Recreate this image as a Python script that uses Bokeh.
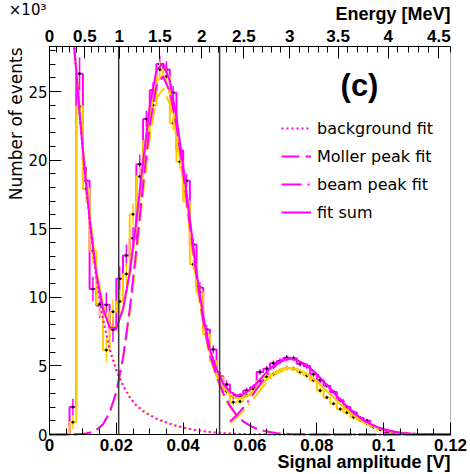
import numpy as np
from bokeh.plotting import figure
from bokeh.models import (Range1d, LinearAxis, FixedTicker, BoxAnnotation,
                          Label, Legend, LegendItem)
from bokeh.embed import file_html
from bokeh.resources import INLINE

nan = float("nan")

# ---------------- data (counts in units of 10^3 events) ----------------
bin_width = 0.002
n_bins = 60

hist_magenta = [0, 0, 0, 2.0, 26.3, 18.5, 10.6, 9.4, 9.45, 7.65,
                11.35, 13.05, 14.3, 19.7, 23.0, 25.1, 27.0, 26.6, 24.9, 20.7,
                18.5, 13.85, 10.7, 7.65, 6.2, 4.25, 3.65, 2.8, 2.8, 3.2,
                3.45, 4.55, 4.8, 5.2, 5.35, 5.6, 5.55, 5.15, 5.0, 4.4,
                3.95, 3.55, 3.1, 2.5, 2.0, 1.6, 1.2, 1.0, 0.55, 0.4,
                0.17, 0.1, 0.05, 0.02, 0.01, 0, 0, 0, 0, 0]

hist_orange = [0, 0, 0, 0.9, 23.9, 17.9, 13.4, 9.5, 6.15, 8.95,
               9.7, 11.7, 16.05, 18.8, 21.4, 24.0, 26.6, 26.1, 22.7, 19.9,
               17.0, 12.4, 10.35, 7.3, 5.35, 4.15, 3.15, 2.35, 2.4, 2.85,
               3.3, 3.9, 4.2, 4.4, 4.65, 4.85, 4.8, 4.55, 4.3, 3.95,
               3.2, 2.7, 2.25, 1.85, 1.6, 1.25, 1.05, 0.8, 0.55, 0.35,
               0.25, 0.1, 0.05, 0.02, 0.01, 0, 0, 0, 0, 0]

err_magenta = [0, 0, 0, 0.6, 1.2, 1.0, 0.9, 0.9, 0.9, 0.9,
               0.9, 0.8, 0.8, 0.7, 0.6, 0.6, 0.6, 0.6, 0.5, 0.5,
               0.5, 0.4, 0.4, 0.35, 0.3, 0.3, 0.3, 0.25, 0.2, 0.2,
               0.2, 0.2, 0.2, 0.2, 0.2, 0.2, 0.2, 0.2, 0.2, 0.2,
               0.2, 0.15, 0.15, 0.15, 0.15, 0.15, 0.15, 0.15, 0.1, 0.1,
               0.1, 0.1, 0.1, 0.05, 0.05, 0, 0, 0, 0, 0]

err_orange = [0, 0, 0, 0.5, 1.2, 1.0, 0.9, 0.9, 0.9, 0.9,
              0.9, 0.8, 0.8, 0.7, 0.6, 0.6, 0.6, 0.6, 0.5, 0.5,
              0.5, 0.4, 0.4, 0.35, 0.3, 0.3, 0.3, 0.25, 0.2, 0.2,
              0.2, 0.2, 0.2, 0.2, 0.2, 0.2, 0.2, 0.2, 0.2, 0.2,
              0.2, 0.15, 0.15, 0.15, 0.15, 0.15, 0.15, 0.15, 0.1, 0.1,
              0.1, 0.1, 0.1, 0.05, 0.05, 0, 0, 0, 0, 0]

# sampling points of the fit curves (signal amplitude, V)
fit_x = [0.000, 0.002, 0.004, 0.006, 0.0074, 0.008, 0.009, 0.010, 0.011] + \
        [round(0.012 + 0.002 * k, 3) for k in range(55)]

bg_magenta = [nan, nan, nan, nan, 28.2, 26.5, 23.4, 20.6, 18.1, 15.6,
              11.4, 8.4, 6.2, 4.65, 3.55, 2.7, 2.1, 1.7, 1.4, 1.15,
              0.95, 0.78, 0.63, 0.5, 0.4, 0.31, 0.24, 0.18, 0.13, 0.1,
              0.07, 0.05, 0.035, 0.025, 0.018, 0.012, 0.008, 0, 0, 0] + [0] * 24

bg_orange = [nan, nan, nan, nan, 28.2, 26.7, 23.7, 20.9, 18.4, 16.0,
             11.8, 8.7, 6.4, 4.8, 3.65, 2.8, 2.2, 1.78, 1.46, 1.2,
             1.0, 0.82, 0.66, 0.53, 0.42, 0.33, 0.25, 0.19, 0.14, 0.1,
             0.075, 0.055, 0.04, 0.028, 0.02, 0.013, 0.009, 0, 0, 0] + [0] * 24

moller_magenta = [0, 0, 0, 0, 0.01, 0.01, 0.03, 0.05, 0.08, 0.12,
                  0.32, 0.75, 1.6, 3.1, 5.6, 9.1, 13.5, 18.2, 22.5, 25.4,
                  26.1, 25.0, 22.5, 19.1, 15.3, 11.5, 8.3, 5.8, 4.3, 3.0,
                  2.1, 1.4, 0.95, 0.65, 0.42, 0.28, 0.18, 0.1, 0.06, 0.03,
                  0.02, 0.01] + [0] * 22

moller_orange = [0, 0, 0, 0, 0.01, 0.01, 0.03, 0.05, 0.08, 0.12,
                 0.31, 0.72, 1.55, 3.0, 5.4, 8.8, 13.0, 17.6, 21.7, 24.5,
                 25.2, 24.1, 21.7, 18.4, 14.8, 11.1, 8.0, 5.6, 4.15, 2.9,
                 2.0, 1.35, 0.92, 0.63, 0.4, 0.27, 0.17, 0.1, 0.06, 0.03,
                 0.02, 0.01] + [0] * 22

beam_magenta = [0] * 20 + \
               [0, 0, 0, 0, 0.02, 0.05, 0.1, 0.2, 0.35, 0.6,
                0.95, 1.4, 1.95, 2.6, 3.3, 4.0, 4.6, 5.1, 5.42, 5.5,
                5.41, 5.18, 4.83, 4.39, 3.88, 3.34, 2.8, 2.28, 1.81, 1.4,
                1.05, 0.77, 0.55, 0.38, 0.26, 0.17, 0.11, 0.07, 0.04, 0.025,
                0.015, 0.01, 0.005, 0]

beam_orange = [0] * 20 + \
              [0, 0, 0, 0, 0.02, 0.04, 0.09, 0.18, 0.31, 0.53,
               0.84, 1.23, 1.72, 2.29, 2.9, 3.52, 4.05, 4.49, 4.77, 4.84,
               4.76, 4.56, 4.25, 3.86, 3.41, 2.94, 2.46, 2.0, 1.59, 1.23,
               0.92, 0.68, 0.48, 0.33, 0.23, 0.15, 0.1, 0.06, 0.035, 0.022,
               0.013, 0.009, 0.004, 0]
beam_start = 0.054   # beam peak fit drawn from here on

cut_positions = [0.0207, 0.0509]

amp_ticks = [0, 0.02, 0.04, 0.06, 0.08, 0.1, 0.12]
amp_tick_labels = ["0", "0.02", "0.04", "0.06", "0.08", "0.1", "0.12"]

y_ticks = [0, 5, 10, 15, 20, 25]

energy_ticks = [0, 0.5, 1.0, 1.5, 2.0, 2.5, 3.0, 3.5, 4.0, 4.5]
energy_tick_labels = ["0", "0.5", "1", "1.5", "2", "2.5", "3", "3.5", "4", "4.5"]
energy_tick_amp = [0, 0.01056, 0.02086, 0.03301, 0.04558, 0.05814,
                   0.07191, 0.08639, 0.10136, 0.11650]

legend_labels = ["background fit", "Moller peak fit", "beam peak fit", "fit sum"]

# ---------------- layout ----------------
W, H = 470, 474
FL, FR, FT, FB = 49, 450, 46, 434           # pixel box of the data area
X_MIN, X_MAX = 0.0, 0.12
Y_MIN, Y_MAX = 0.0, 28.28
sx = (X_MAX - X_MIN) / (FR - FL)
sy = (Y_MAX - Y_MIN) / (FB - FT)
x_range = Range1d(X_MIN - FL * sx, X_MAX + (W - FR) * sx)
y_range = Range1d(Y_MIN - (H - FB) * sy, Y_MAX + FT * sy)

MAG = "#FF00FF"
ORA = "#FFCC00"
BOLD_FONT = "Liberation Sans"
REG_FONT = "DejaVu Sans"

p = figure(width=W, height=H, output_backend="svg", toolbar_location=None,
           x_range=x_range, y_range=y_range, title_location=None,
           min_border_left=0, min_border_right=0, min_border_top=0, min_border_bottom=0)
p.grid.visible = False
p.background_fill_color = "white"
p.border_fill_color = "white"
p.outline_line_color = None

# bottom axis
xa = p.xaxis[0]
xa.fixed_location = Y_MIN
xa.bounds = (X_MIN, X_MAX)
xa.ticker = FixedTicker(ticks=amp_ticks,
                        minor_ticks=list(np.round(np.arange(0, 0.1201, 0.005), 4)))
xa.major_label_overrides = {t: l for t, l in zip(amp_ticks, amp_tick_labels)}
# left axis
ya = p.yaxis[0]
ya.fixed_location = X_MIN
ya.bounds = (Y_MIN, Y_MAX)
ya.ticker = FixedTicker(ticks=y_ticks, minor_ticks=list(range(0, 29)))

# top (energy) axis: calibration for the minor ticks from the read tick positions
cal = np.polyfit(energy_ticks, energy_tick_amp, 2)
e_minor = [round(0.1 * k, 1) for k in range(1, 47) if k % 5 != 0]
e_minor_amp = [float(np.polyval(cal, e)) for e in e_minor]
e_minor_amp = [a for a in e_minor_amp if a < X_MAX]
top = LinearAxis(ticker=FixedTicker(ticks=energy_tick_amp, minor_ticks=e_minor_amp),
                 major_label_overrides={a: l for a, l in zip(energy_tick_amp, energy_tick_labels)},
                 fixed_location=Y_MAX, bounds=(X_MIN, X_MAX))
p.add_layout(top, "above")

for ax in (xa, top):
    ax.major_label_text_font = BOLD_FONT
    ax.major_label_text_font_style = "bold"
    ax.major_label_text_font_size = "17px"
for ax in (xa, ya, top):
    ax.major_tick_in = 12
    ax.major_tick_out = 0
    ax.minor_tick_in = 6
    ax.minor_tick_out = 0
    ax.axis_line_color = "black"
    ax.major_tick_line_color = "black"
    ax.minor_tick_line_color = "black"
    ax.major_label_text_color = "black"
xa.major_label_standoff = 4
top.major_label_standoff = 5
ya.major_label_standoff = 2
ya.major_label_text_font = REG_FONT
ya.major_label_text_font_size = "15px"

# frame box
p.add_layout(BoxAnnotation(left=X_MIN, right=X_MAX, bottom=Y_MIN, top=Y_MAX,
                           fill_alpha=0, line_color="black", line_width=1, level="underlay"))

# ---------------- histograms ----------------
edges = np.round(np.arange(n_bins + 1) * bin_width, 4)
centers = edges[:-1] + bin_width / 2


def draw_hist(vals, errs, color):
    v = np.array(vals, dtype=float)
    e = np.array(errs, dtype=float)
    p.step(x=edges, y=np.append(v, v[-1]), mode="after", line_color=color, line_width=2)
    m = v > 0
    p.segment(x0=centers[m], y0=v[m] - e[m], x1=centers[m], y1=v[m] + e[m],
              line_color=color, line_width=1.5)
    p.scatter(x=centers[m], y=v[m], size=2, color="black")


draw_hist(hist_magenta, err_magenta, MAG)
draw_hist(hist_orange, err_orange, ORA)

# ---------------- fit curves ----------------
fx = np.array(fit_x)


def draw_fits(bg, mol, beam, color):
    bg = np.array(bg, dtype=float)
    mol = np.array(mol, dtype=float)
    beam = np.array(beam, dtype=float)
    total = bg + mol + beam
    r_bg = p.line(fx, bg, line_color=color, line_width=2, line_dash="2 3")
    r_mol = p.line(fx, mol, line_color=color, line_width=2, line_dash="18 6")
    sel = fx >= beam_start - 1e-9
    r_beam = p.line(fx[sel], beam[sel], line_color=color, line_width=2, line_dash="20 6 2 6")
    r_sum = p.line(fx, total, line_color=color, line_width=2)
    return [r_bg, r_mol, r_beam, r_sum]


draw_fits(bg_orange, moller_orange, beam_orange, ORA)
rend_m = draw_fits(bg_magenta, moller_magenta, beam_magenta, MAG)

# vertical cut lines across the data area
p.segment(x0=cut_positions, y0=[Y_MIN] * len(cut_positions),
          x1=cut_positions, y1=[Y_MAX] * len(cut_positions),
          line_color="#3a3a3a", line_width=1.5)

legend = Legend(items=[LegendItem(label=l, renderers=[r]) for l, r in zip(legend_labels, rend_m)],
                location=(281, H - 222), padding=0, margin=0, spacing=8,
                glyph_width=30, glyph_height=20, label_height=20, label_standoff=6,
                border_line_alpha=0, background_fill_alpha=0,
                label_text_font=REG_FONT, label_text_font_size="16px",
                label_text_color="black")
p.add_layout(legend)

# ---------------- texts ----------------
def px_x(px):
    return X_MIN + (px - FL) * sx


def px_y(py):
    return Y_MIN + (FB - py) * sy


p.add_layout(Label(x=px_x(359), y=px_y(84.5), text="(c)", text_font=BOLD_FONT,
                   text_font_style="bold", text_color="black",
                   text_font_size="31px", text_align="center", text_baseline="alphabetic"))
p.add_layout(Label(x=px_x(450), y=px_y(13), text="Energy [MeV]", text_font=BOLD_FONT,
                   text_font_style="bold", text_color="black", text_font_size="18px",
                   text_align="right", text_baseline="alphabetic"))
p.add_layout(Label(x=px_x(450), y=px_y(461), text="Signal amplitude [V]", text_font=BOLD_FONT,
                   text_font_style="bold", text_color="black", text_font_size="18px",
                   text_align="right", text_baseline="alphabetic"))
p.add_layout(Label(x=px_x(15.7), y=px_y(47), text="Number of events", text_font=REG_FONT,
                   text_color="black", text_font_size="17px", angle=np.pi / 2,
                   text_align="right", text_baseline="alphabetic"))
p.add_layout(Label(x=px_x(8.3), y=px_y(9.5), text="×10³", text_font=REG_FONT,
                   text_color="black", text_font_size="15px", text_align="left",
                   text_baseline="alphabetic"))

open("out.html", "w").write(file_html(p, INLINE))
